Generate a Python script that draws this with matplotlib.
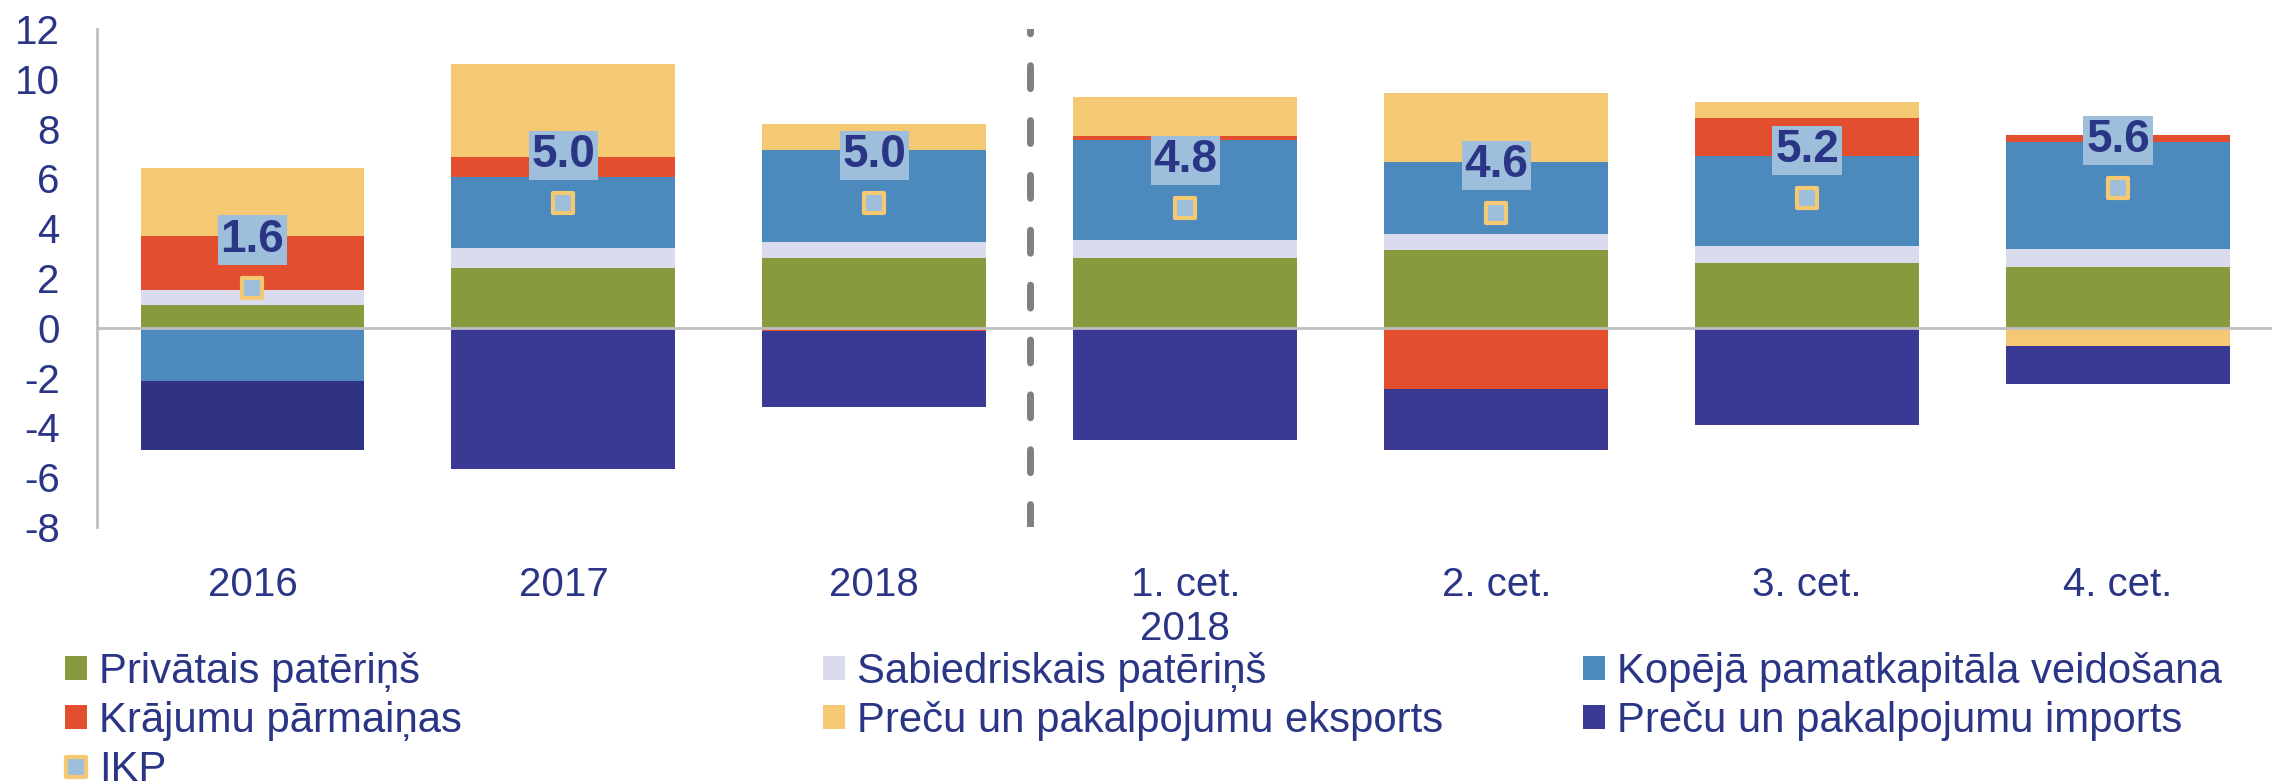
import matplotlib
matplotlib.use("Agg")
import matplotlib.pyplot as plt
import numpy as np
from matplotlib.markers import MarkerStyle
from matplotlib.patches import Patch

plt.rcParams['font.family'] = ['Liberation Sans', 'DejaVu Sans']
plt.rcParams['axes.unicode_minus'] = False

categories = ['2016', '2017', '2018', '1. cet.\n2018', '2. cet.', '3. cet.', '4. cet.']
private_cons = [0.90, 2.42, 2.80, 2.82, 3.11, 2.62, 2.45]
public_cons = [0.60, 0.79, 0.63, 0.72, 0.67, 0.67, 0.70]
gfcf = [-2.15, 2.85, 3.72, 3.99, 2.88, 3.62, 4.33]
inventories = [2.20, 0.78, -0.14, 0.16, -2.44, 1.51, 0.26]
exports = [2.70, 3.75, 1.05, 1.56, 2.78, 0.66, -0.73]
imports = [-2.77, -5.66, -3.06, -4.49, -2.45, -3.91, -1.51]
gdp = [1.6, 5.0, 5.0, 4.8, 4.6, 5.2, 5.6]

series_names = ['Privātais patēriņš', 'Sabiedriskais patēriņš', 'Kopējā pamatkapitāla veidošana',
                'Krājumu pārmaiņas', 'Preču un pakalpojumu eksports', 'Preču un pakalpojumu imports']
gdp_name = 'IKP'

colors = ['#879A3D', '#DADCEE', '#4C89BC', '#E24E2E', '#F5C973', '#3A3A94']
TXT = '#2B3586'

fig = plt.figure(figsize=(22.72, 7.82), dpi=100)
ax = fig.add_axes([0.0427, 0.3261, 0.958, 0.6368])

x = np.arange(len(categories))
width = 0.72
data = [private_cons, public_cons, gfcf, inventories, exports, imports]
pos_base = np.zeros(len(x))
neg_base = np.zeros(len(x))
handles = []
for i, (vals, col) in enumerate(zip(data, colors)):
    vals = np.array(vals, dtype=float)
    bottoms = np.where(vals >= 0, pos_base, neg_base)
    cols = [col] * len(x)
    if i == 5:
        cols[0] = '#303282'
    ax.bar(x, vals, width, bottom=bottoms, color=cols, edgecolor='none', zorder=2)
    pos_base = pos_base + np.where(vals >= 0, vals, 0)
    neg_base = neg_base + np.where(vals < 0, vals, 0)
    handles.append(Patch(facecolor=col, edgecolor='none', label=series_names[i]))

ax.axhline(0, color='#BFBFBF', lw=2, zorder=3)
ax.axvline(2.5, color='#808080', lw=5, dashes=(3.3, 4.6), dash_capstyle='round', zorder=3)

mk = MarkerStyle('s', joinstyle='round')
gdp_line, = ax.plot(x, gdp, linestyle='none', marker=mk, markersize=14,
                    markerfacecolor='#9DBFDB', markeredgecolor='#F5C973',
                    markeredgewidth=3.0, zorder=5, label=gdp_name)
for xi, v in zip(x, gdp):
    ax.annotate(f'{v:.1f}', (xi, v), xytext=(0, 34.5), textcoords='offset points',
                ha='center', va='center', fontsize=33, fontweight='bold', color=TXT,
                bbox=dict(boxstyle='square,pad=0.06', facecolor='#9DBFDB', edgecolor='none'),
                zorder=6)

ax.set_xlim(-0.5, 6.5)
ax.set_ylim(-8, 12)
ax.set_yticks(np.arange(-8, 13, 2))
ax.set_xticks(x)
ax.set_xticklabels(categories)
ax.tick_params(axis='both', length=0, labelsize=29, labelcolor=TXT)
ax.tick_params(axis='x', pad=28)
ax.tick_params(axis='y', pad=27)
for s in ['top', 'right', 'bottom']:
    ax.spines[s].set_visible(False)
ax.spines['left'].set_color('#BFBFBF')
ax.spines['left'].set_linewidth(2)

cols_entries = [
    ([handles[0], handles[3], gdp_line], 0.0286),
    ([handles[1], handles[4]], 0.3622),
    ([handles[2], handles[5]], 0.6967),
]
for hs, xpos in cols_entries:
    leg = fig.legend(handles=hs, loc='upper left', bbox_to_anchor=(xpos, 1 - 652 / 782),
                     frameon=False, fontsize=30.2, borderpad=0, borderaxespad=0,
                     handlelength=0.52, handleheight=0.52, handletextpad=0.3,
                     labelspacing=0.21, ncol=1)
    for t in leg.get_texts():
        t.set_color(TXT)

fig.savefig('out.png', dpi=100)
